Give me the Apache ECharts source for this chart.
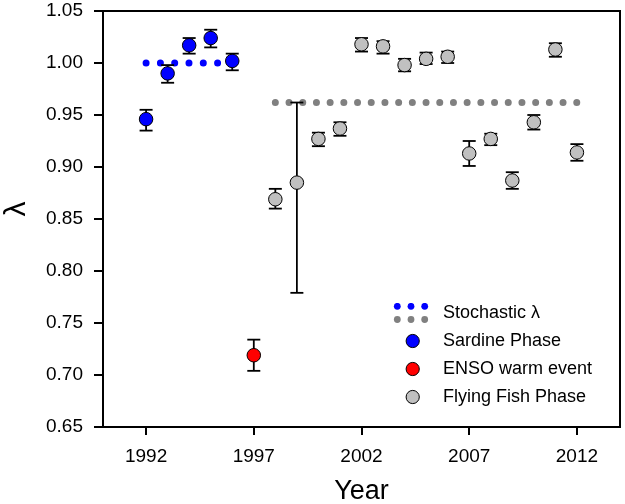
<!DOCTYPE html>
<html>
<head>
<meta charset="utf-8">
<script src="https://cdn.jsdelivr.net/npm/echarts@6/dist/echarts.min.js"></script>
<style>
html,body{margin:0;padding:0;background:#fff;}
#chart{width:625px;height:504px;}
</style>
</head>
<body>
<div id="chart"></div>
<script>
// ---- data ----
const sardineYears = [1992, 1993, 1994, 1995, 1996];
const sardineLambda = [0.946, 0.990, 1.017, 1.024, 1.002];
const sardineLow = [0.935, 0.981, 1.009, 1.015, 0.993];
const sardineHigh = [0.955, 0.998, 1.024, 1.032, 1.009];

const ensoYears = [1997];
const ensoLambda = [0.719];
const ensoLow = [0.704];
const ensoHigh = [0.734];

const flyingYears = [1998, 1999, 2000, 2001, 2002, 2003, 2004, 2005, 2006, 2007, 2008, 2009, 2010, 2011, 2012];
const flyingLambda = [0.869, 0.885, 0.927, 0.937, 1.018, 1.016, 0.998, 1.004, 1.006, 0.913, 0.927, 0.887, 0.943, 1.013, 0.914];
const flyingLow = [0.860, 0.779, 0.920, 0.930, 1.011, 1.009, 0.992, 0.999, 1.000, 0.901, 0.921, 0.879, 0.936, 1.006, 0.906];
const flyingHigh = [0.879, 0.962, 0.933, 0.943, 1.024, 1.021, 1.004, 1.010, 1.011, 0.925, 0.932, 0.895, 0.950, 1.019, 0.922];

const stochSardineYears = [1992, 1996];
const stochSardineValue = 1.000;
const stochFlyingYears = [1998, 2012];
const stochFlyingValue = 0.962;

const xTickYears = [1992, 1997, 2002, 2007, 2012];

// ---- helpers ----
const FONT = "'Liberation Sans', Arial, sans-serif";
const BLUE = '#0000ff';
const RED = '#ff0000';
const LGRAY = '#c0c0c0';
const DGRAY = '#808080';

function pairs(xs, ys) { return xs.map((x, i) => [x, ys[i]]); }
function triples(xs, lo, hi) { return xs.map((x, i) => [x, lo[i], hi[i]]); }

function svgIcon(inner) {
  const svg = '<svg xmlns="http://www.w3.org/2000/svg" width="45" height="20" viewBox="0 0 45 20">' + inner + '</svg>';
  return 'image://data:image/svg+xml;charset=utf-8,' + encodeURIComponent(svg);
}
function markerIcon(fill) {
  return svgIcon('<circle cx="19.7" cy="10" r="6.6" fill="' + fill + '" stroke="#000" stroke-width="1"/>');
}
const stochIcon = svgIcon(
  '<circle cx="4.3" cy="3.3" r="3.4" fill="' + BLUE + '"/>' +
  '<circle cx="18" cy="3.3" r="3.4" fill="' + BLUE + '"/>' +
  '<circle cx="31.7" cy="3.3" r="3.4" fill="' + BLUE + '"/>' +
  '<circle cx="4.3" cy="16.5" r="3.4" fill="' + DGRAY + '"/>' +
  '<circle cx="18" cy="16.5" r="3.4" fill="' + DGRAY + '"/>' +
  '<circle cx="31.7" cy="16.5" r="3.4" fill="' + DGRAY + '"/>'
);

function errorBarRender(params, api) {
  const x = api.value(0);
  const pLo = api.coord([x, api.value(1)]);
  const pHi = api.coord([x, api.value(2)]);
  const hw = 6.5;
  const st = { stroke: '#000', lineWidth: 1.8 };
  return {
    type: 'group',
    children: [
      { type: 'line', shape: { x1: pLo[0], y1: pLo[1], x2: pHi[0], y2: pHi[1] }, style: st },
      { type: 'line', shape: { x1: pLo[0] - hw, y1: pLo[1], x2: pLo[0] + hw, y2: pLo[1] }, style: st },
      { type: 'line', shape: { x1: pHi[0] - hw, y1: pHi[1], x2: pHi[0] + hw, y2: pHi[1] }, style: st }
    ]
  };
}

const chart = echarts.init(document.getElementById('chart'), null, { renderer: 'canvas' });

const option = {
  animation: false,
  backgroundColor: '#fff',
  textStyle: { fontFamily: FONT },
  grid: {
    left: 103, right: 5, top: 11, bottom: 77,
    containLabel: false, outerBoundsMode: 'none',
    show: true, borderColor: '#000', borderWidth: 2, backgroundColor: 'transparent'
  },
  xAxis: {
    type: 'value', min: 1990, max: 2014,
    name: 'Year', nameLocation: 'middle', nameGap: 51,
    nameTextStyle: { fontSize: 27, color: '#000', fontFamily: FONT },
    axisLine: { show: true, lineStyle: { color: '#000', width: 2 } },
    axisTick: { show: true, inside: false, length: 8, lineStyle: { color: '#000', width: 2 }, customValues: xTickYears },
    axisLabel: { show: true, margin: 20, fontSize: 19, color: '#000', fontFamily: FONT, customValues: xTickYears, formatter: v => String(v) },
    splitLine: { show: false }
  },
  yAxis: {
    type: 'value', min: 0.65, max: 1.05, interval: 0.05,
    name: 'λ', nameLocation: 'middle', nameGap: 71, nameRotate: 90,
    nameTextStyle: { fontSize: 30, color: '#000', fontFamily: FONT, padding: [0, 0, 0, 20] },
    axisLine: { show: true, lineStyle: { color: '#000', width: 2 } },
    axisTick: { show: true, inside: false, length: 9, lineStyle: { color: '#000', width: 2 } },
    axisLabel: { show: true, margin: 20, fontSize: 19, color: '#000', fontFamily: FONT, formatter: v => v.toFixed(2) },
    splitLine: { show: false }
  },
  legend: {
    show: true, orient: 'vertical', left: 393, top: 303, padding: 0,
    itemWidth: 45, itemHeight: 20, itemGap: 8, selectedMode: false,
    textStyle: { fontSize: 18, color: '#000', fontFamily: FONT },
    data: [
      { name: 'Stochastic λ', icon: stochIcon },
      { name: 'Sardine Phase', icon: markerIcon(BLUE) },
      { name: 'ENSO warm event', icon: markerIcon(RED) },
      { name: 'Flying Fish Phase', icon: markerIcon(LGRAY) }
    ]
  },
  series: [
    {
      name: 'Stochastic λ', type: 'line', z: 1, silent: true,
      data: stochSardineYears.map(x => [x, stochSardineValue]),
      showSymbol: false, symbol: 'none',
      lineStyle: { color: BLUE, width: 7, type: [0.001, 14.3], cap: 'round' }
    },
    {
      name: 'Stochastic λ', type: 'line', z: 1, silent: true,
      data: stochFlyingYears.map(x => [x, stochFlyingValue]),
      showSymbol: false, symbol: 'none',
      lineStyle: { color: DGRAY, width: 7, type: [0.001, 13.7], cap: 'round' }
    },
    { type: 'custom', z: 2, silent: true, renderItem: errorBarRender, data: triples(sardineYears, sardineLow, sardineHigh), encode: { x: 0, y: [1, 2] } },
    { type: 'custom', z: 2, silent: true, renderItem: errorBarRender, data: triples(ensoYears, ensoLow, ensoHigh), encode: { x: 0, y: [1, 2] } },
    { type: 'custom', z: 2, silent: true, renderItem: errorBarRender, data: triples(flyingYears, flyingLow, flyingHigh), encode: { x: 0, y: [1, 2] } },
    {
      name: 'Sardine Phase', type: 'scatter', z: 3, symbol: 'circle', symbolSize: 13.5,
      itemStyle: { color: BLUE, borderColor: '#000', borderWidth: 1, opacity: 1 },
      data: pairs(sardineYears, sardineLambda)
    },
    {
      name: 'ENSO warm event', type: 'scatter', z: 3, symbol: 'circle', symbolSize: 13.5,
      itemStyle: { color: RED, borderColor: '#000', borderWidth: 1, opacity: 1 },
      data: pairs(ensoYears, ensoLambda)
    },
    {
      name: 'Flying Fish Phase', type: 'scatter', z: 3, symbol: 'circle', symbolSize: 13.5,
      itemStyle: { color: LGRAY, borderColor: '#000', borderWidth: 1, opacity: 1 },
      data: pairs(flyingYears, flyingLambda)
    }
  ]
};
chart.setOption(option);
</script>
</body>
</html>
